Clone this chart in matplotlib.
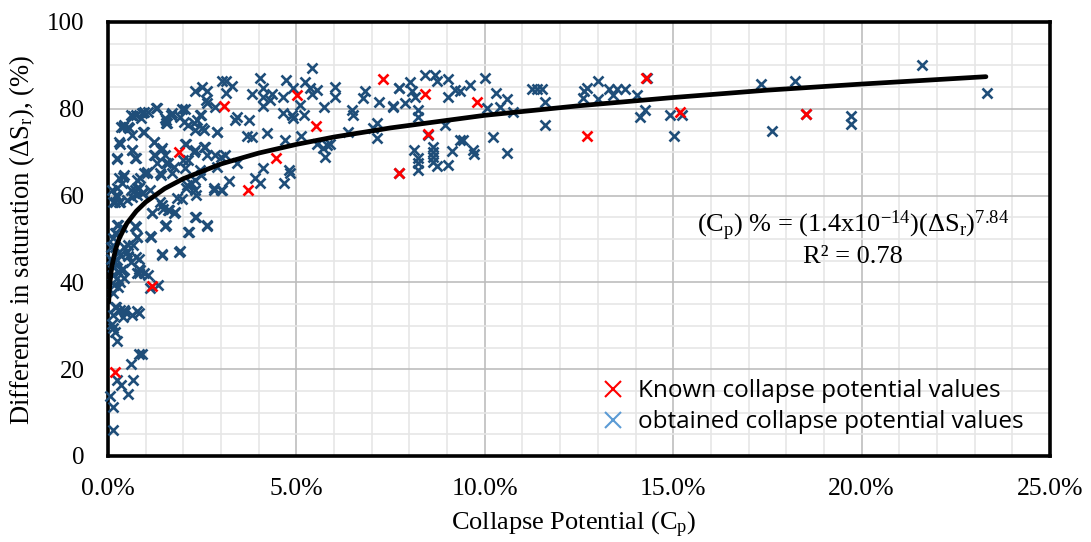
import matplotlib
matplotlib.use("Agg")
import matplotlib.pyplot as plt
from matplotlib.lines import Line2D
from matplotlib.ticker import MultipleLocator, FuncFormatter

plt.rcParams['font.family'] = ['Liberation Serif', 'DejaVu Sans']
plt.rcParams['mathtext.fontset'] = 'custom'
plt.rcParams['mathtext.rm'] = 'Liberation Serif'
plt.rcParams['mathtext.it'] = 'Liberation Serif:italic'

blue_x = [5.42,4.04,4.72,3.02,3.13,3.28,2.49,2.31,2.64,3.13,4.12,3.81,4.35,4.12,4.64,4.92,5.23,5.36,5.54,5.41,6.03,6.03,
6.82,6.78,7.18,7.71,7.56,6.47,6.51,5.72,5.10,4.30,4.12,2.6,2.84,2.04,1.29,1.07,.89,.67,1.69,1.51,1.56,1.91,2.44,2.35,2.13,2.49,2.31,
3.42,3.37,3.73,4.64,4.88,4.92,5.19,2.88,3.68,3.81,4.21,4.70,5.12,6.38,7.13,7.04,7.13,5.54,5.8,5.89,5.71,5.76,
.41,.54,.63,.94,.32,1.23,.63,.72,.23,1.42,1.25,1.51,2.04,2.31,2.58,2.62,2.84,3.11,3.42,1.6,2,2.04,1.69,1.38,1.03,.85,
.41,.36,2.88,2.44,2.31,2.09,4.12,3.9,4.04,4.8,4.83,4.67,3.22,2.82,3.02,2.31,1.96,.72,.81,.94,.63,.19,.32,.1,1.12,
1.38,1.6,1.78,1.47,1.16,2.31,2.62,1.51,2.13,1.12,.72,.27,.19,
1.42,1.89,.76,.54,.67,.19,.32,.54,.81,.14,.41,.27,.85,1.07,.81,.32,.27,.14,1.34,1.12,
.19,.32,.45,.41,.63,.81,.14,.1,.14,.19,.23,.81,.89,.61,.23,.34,.67,.52,.04,.12,.12,
7.57,7.71,7.88,8.01,8.06,8.15,8.41,8.68,8.72,9.03,9.03,9.21,9.34,9.61,10.0,10.05,10.3,10.4,10.6,10.74,8.24,8.24,8.94,8.12,8.24,8.24,8.24,
8.62,8.62,8.62,8.62,8.72,9.03,9.12,9.34,9.43,9.7,9.71,10.23,10.6,11.6,11.25,11.51,11.38,11.6,12.62,12.6,12.7,13.0,13.0,13.3,13.5,13.72,13.41,14.03,14.25,14.12,14.3,
14.92,15.23,15.02,7.71,8.5,17.32,18.22,21.61,23.32,17.61,18.53,19.71,19.71,
.6,.73,.96,1.27,.87,.42,.56,.34,.96,.29,.65,1.22,.25,.73,1.22,1.4,1.53,1.66,1.97,1.53,2.02,2.46,2.28,2.55,2.9,2.64,2.06,2.28,2.55,2.99,1.31,1.53,1.75,2.11,
.42,.29,.96,1.04,.78,1.4,2.19,.25,.78,.91,.6,.25,2.81,2.99,2.06,2.46,
.2,.12,.29,.51,.78,1.18,1.44,1.62,1.75,1.53,1.84,2.33,2.33,2.64,2.15,1.13,1.42,1.91,.25,.38,.73,.2,.78,.12,.42,.51,.29,.73,.6,.25,.16,.34,.82,.96,.78,.12,.42,.25,.16,.12,.07,.2,.42,.78,.07]
blue_y = [89.3,87.0,86.7,86.4,86.4,85.3,85.1,84.2,84.0,83.6,84.7,83.4,83.4,82.7,82.7,84.7,86.1,84.7,84.3,83.4,85.1,82.7,
84.2,82.4,81.6,84.7,80.7,79.7,78.6,80.5,80.9,82.0,80.7,82,80.3,79.9,80.1,79.3,79,78.3,79,77.8,76.7,78.2,78.6,77.4,76.3,75.5,75.1,
78.2,77.4,77.4,79,78.6,77.8,78.6,74.7,73.7,73.4,74.4,72.8,73.7,74.7,76.8,75.5,73.2,72,71.7,72,70.9,69,
75.9,75.9,74,74.7,72,72.4,70.5,68.6,68.6,70.9,69.4,69.4,72,70.5,71.3,69.4,69.4,69.4,67.6,67.4,68.2,66.3,65.1,65.1,65.1,64,
64.3,62.8,66.7,65.9,63.6,62.4,66.3,64,63,65.9,65.1,63,63.4,61.3,61.3,61.3,59.3,61.3,61.7,60.5,59.7,58.6,58.6,61.3,61.3,
58.6,56.7,56.3,57,55.9,55.1,53,53,51.5,50.7,53,53.2,51.3,
46.5,47.1,50.5,48.6,48.6,48.2,46.3,46,45.5,44.8,43.2,42.5,42.8,41.7,42.1,40.2,39,41.7,39.4,38.6,
34.4,33.6,33.2,32.1,32.5,32.9,32.5,30.5,29.4,28.6,26.5,23.6,23.5,21.1,17.5,16.4,17.4,14.4,13.9,11.2,6.1,
80.5,84.7,81.4,86.2,84,82.8,87.8,87.8,86.5,86.8,82.8,84.3,84,85.5,87.2,80.1,83.6,80.5,82.2,79.3,79.7,78.2,76.3,70.5,68.6,67.4,65.9,
71.3,70.1,69,67.8,66.8,67.1,70.3,72.8,72.8,70.5,69.7,73.4,69.9,76.3,84.5,84.5,84.5,81.6,84,82.4,84.9,86.5,82.2,84.5,84.5,84.5,83.2,83.2,79.7,78,87,
78.6,78.6,73.7,65.1,74,85.6,86.5,90,83.7,75,78.8,78.3,76.6,
78.6,78.6,79.3,80.1,77.8,76.3,75.5,75.9,74.7,72.4,70.5,72.4,68.4,68.6,69.4,70.5,76.7,78.6,79.9,77.4,77,78.6,76.7,75.1,74.7,81.3,72,70.1,71.3,69,67.4,67.4,66.7,68.2,
64.7,64,65.1,65.5,63.6,64.7,62.8,61.7,61.7,60.5,61.3,59.7,61.7,61.3,61.7,64.7,
60.1,58.6,58.6,59,60.1,55.9,57.8,56.7,55.9,53.2,59.4,60.1,55.1,53.2,51.5,50.5,46.3,47.2,53.2,52.8,52.8,51.3,50.5,50.2,48.2,47.1,47.1,45.9,44.8,45.2,43.6,42.9,43.2,42.1,42.1,41.7,40.9,40.9,39.4,37.5,45.5,34.4,33.6,33.3,48.2]

red_x = [1.89,3.09,5.01,5.52,4.46,3.71,7.29,7.71,1.18,.19,8.41,9.8,8.5,12.71,14.28,15.18,18.53]
red_y = [70.1,80.7,83.2,76.1,68.6,61.3,86.9,65.3,39.2,19.4,83.4,81.5,74.1,73.7,87.2,79.2,78.8]

trend_x = [0.02,0.03,0.05,0.1,0.2,0.3,0.5,0.75,1,1.5,2,3,4,5,6,7.5,10,12.5,15,17.5,20,23.3]
trend_y = [35.5,37.4,39.9,43.6,47.6,50.2,53.6,56.4,58.5,61.6,63.9,67.3,69.8,71.8,73.5,75.6,78.5,80.7,82.6,84.3,85.7,87.4]

legend_labels = ['Known collapse potential values', 'obtained collapse potential values']

fig = plt.figure(figsize=(10.91, 5.42), dpi=100)
ax = fig.add_axes([108/1091, 1-456/542, (1050-108)/1091, (456-22)/542])
ax.set_xlim(0, 25); ax.set_ylim(0, 100)
ax.xaxis.set_major_locator(MultipleLocator(5)); ax.xaxis.set_minor_locator(MultipleLocator(1))
ax.yaxis.set_major_locator(MultipleLocator(20)); ax.yaxis.set_minor_locator(MultipleLocator(5))
ax.xaxis.set_major_formatter(FuncFormatter(lambda v, p: f'{v:.1f}%'))
ax.set_axisbelow(True)
ax.grid(which='minor', color='#E6E6E6', lw=1.2)
ax.grid(which='major', color='#BDBDBD', lw=1.2)
ax.tick_params(which='both', length=0)
ax.tick_params(axis='x', labelsize=18.5, pad=16)
ax.tick_params(axis='y', labelsize=18, pad=17)
for s in ax.spines.values():
    s.set_linewidth(2.6); s.set_color('black')

ax.plot(blue_x, blue_y, ls='', marker='x', ms=7.5, mew=1.9, color='#1F4E79', zorder=3, clip_on=False)
ax.plot(trend_x, trend_y, color='black', lw=3.4, zorder=4, solid_capstyle='round')
ax.plot(red_x, red_y, ls='', marker='x', ms=7.5, mew=1.9, color='#FF0000', zorder=5)

ax.set_xlabel(r'Collapse Potential (C$_{\mathrm{p}}$)', fontsize=19, va='center')
ax.xaxis.set_label_coords(574/1091, 1-525/542, transform=fig.transFigure)
ax.set_ylabel(r'Difference in saturation ($\Delta$S$_{\mathrm{r}}$), (%)', fontsize=19.2, va='center')
ax.yaxis.set_label_coords(22/1091, 1-240/542, transform=fig.transFigure)

fig.text(853/1091, 1-226/542, r'(C$_{\mathrm{p}}$) % = (1.4x10$^{-14}$)($\Delta$S$_{\mathrm{r}}$)$^{7.84}$',
         ha='center', va='center', fontsize=19)
fig.text(853/1091, 1-257/542, 'R² = 0.78', ha='center', va='center', fontsize=19)

handles = [Line2D([], [], ls='', marker='x', ms=11, mew=1.5, color='#FF0000'),
           Line2D([], [], ls='', marker='x', ms=11, mew=1.5, color='#5B9BD5')]
ax.legend(handles, legend_labels, loc='lower right', bbox_to_anchor=(1024/1091, 1-434.5/542),
          bbox_transform=fig.transFigure, frameon=False, prop={'family': 'Open Sans', 'size': 17.5},
          handlelength=1.0, handletextpad=0.55, labelspacing=0.3, borderpad=0, borderaxespad=0)

fig.savefig('out.png', dpi=100)
